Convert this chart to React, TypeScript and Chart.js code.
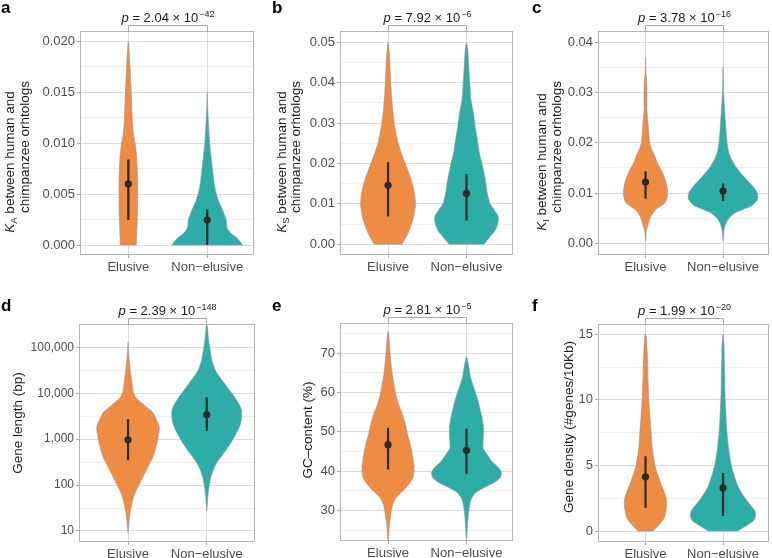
import React, { useEffect, useRef } from 'react';
import { Chart, registerables } from 'chart.js';

Chart.register(...registerables);

const FONT = '"Liberation Sans", Arial, Helvetica, sans-serif';
const categories = ['Elusive', 'Non\u2212elusive'];
const ORANGE = '#EE8C44';
const TEAL = '#2EADA8';

// ---------- Panel a: K_A ----------
const kaElusiveY = [0, 0.0028, 0.0061, 0.0087, 0.0100, 0.0110, 0.0126, 0.0143, 0.0159, 0.0175, 0.0192, 0.0200];
const kaElusiveW = [0.101, 0.114, 0.118, 0.105, 0.085, 0.063, 0.048, 0.041, 0.032, 0.022, 0.010, 0];
const kaNonY = [0, 0.00066, 0.00115, 0.00164, 0.00246, 0.00311, 0.00377, 0.00443, 0.00574, 0.0077, 0.00967, 0.0116, 0.0135, 0.015];
const kaNonW = [0.449, 0.38, 0.30, 0.253, 0.24, 0.211, 0.177, 0.137, 0.095, 0.063, 0.035, 0.018, 0.006, 0];
const kaMid = [0.0060, 0.00246];
const kaLow = [0.00246, 0];
const kaHigh = [0.0084, 0.0035];
const kaTicks = [0, 0.005, 0.01, 0.015, 0.02];
const kaLabels = ['0.000', '0.005', '0.010', '0.015', '0.020'];
const kaMinor = [0.0025, 0.0075, 0.0125, 0.0175];

// ---------- Panel b: K_S ----------
const ksElusiveY = [0, 0.0027, 0.006, 0.0093, 0.011, 0.0135, 0.016, 0.0193, 0.0226, 0.0259, 0.0292, 0.0333, 0.0374, 0.0424, 0.0474, 0.05];
const ksElusiveW = [0.177, 0.253, 0.316, 0.348, 0.348, 0.329, 0.295, 0.232, 0.168, 0.118, 0.085, 0.059, 0.042, 0.029, 0.016, 0];
const ksNonY = [0, 0.0019, 0.0035, 0.0052, 0.0069, 0.0085, 0.0101, 0.0126, 0.016, 0.0193, 0.0226, 0.0259, 0.0292, 0.0325, 0.0358, 0.04, 0.044, 0.0482, 0.05];
const ksNonW = [0.222, 0.30, 0.367, 0.40, 0.405, 0.354, 0.30, 0.266, 0.24, 0.206, 0.165, 0.139, 0.111, 0.089, 0.057, 0.042, 0.029, 0.016, 0];
const ksMid = [0.0146, 0.0126];
const ksLow = [0.0069, 0.0059];
const ksHigh = [0.0203, 0.0174];
const ksTicks = [0, 0.01, 0.02, 0.03, 0.04, 0.05];
const ksLabels = ['0.00', '0.01', '0.02', '0.03', '0.04', '0.05'];
const ksMinor = [0.005, 0.015, 0.025, 0.035, 0.045];

// ---------- Panel c: K_I ----------
const kiElusiveY = [0.0005, 0.0022, 0.0028, 0.0042, 0.0055, 0.0068, 0.0081, 0.0094, 0.0108, 0.0121, 0.0134, 0.0147, 0.016, 0.0174, 0.0187, 0.02, 0.022, 0.024, 0.0266, 0.0292, 0.0319, 0.0339, 0.0355, 0.037];
const kiElusiveW = [0, 0.008, 0.016, 0.042, 0.073, 0.137, 0.253, 0.282, 0.282, 0.266, 0.237, 0.2, 0.152, 0.118, 0.08, 0.053, 0.041, 0.032, 0.018, 0.02, 0.016, 0.006, 0.002, 0];
const kiNonY = [0.0005, 0.0022, 0.0035, 0.0048, 0.0061, 0.0075, 0.0088, 0.0101, 0.0114, 0.0127, 0.0141, 0.0154, 0.0167, 0.018, 0.0193, 0.0213, 0.0233, 0.0253, 0.0286, 0.0312, 0.0335, 0.035];
const kiNonW = [0, 0.009, 0.025, 0.067, 0.158, 0.37, 0.447, 0.44, 0.38, 0.304, 0.222, 0.158, 0.11, 0.076, 0.059, 0.044, 0.036, 0.026, 0.012, 0.005, 0.002, 0];
const kiMid = [0.0122, 0.0104];
const kiLow = [0.0089, 0.0084];
const kiHigh = [0.0143, 0.0119];
const kiTicks = [0, 0.01, 0.02, 0.03, 0.04];
const kiLabels = ['0.00', '0.01', '0.02', '0.03', '0.04'];
const kiMinor = [0.005, 0.015, 0.025, 0.035];

// ---------- Panel d: gene length ----------
const lenElusiveY = [9, 14, 20, 27, 38, 53, 75, 104, 146, 204, 285, 398, 556, 778, 1090, 1520, 1955, 2510, 3510, 4150, 4910, 5810, 6860, 8110, 10400, 15850, 22100, 31000, 43300, 60500, 84500, 118000, 130000];
const lenElusiveW = [0, 0.010, 0.019, 0.029, 0.048, 0.067, 0.101, 0.143, 0.186, 0.228, 0.27, 0.313, 0.342, 0.363, 0.382, 0.395, 0.395, 0.367, 0.329, 0.295, 0.24, 0.19, 0.142, 0.099, 0.067, 0.051, 0.041, 0.029, 0.02, 0.012, 0.005, 0.001, 0];
const lenNonY = [27, 32, 53, 75, 104, 146, 204, 285, 398, 556, 778, 1090, 1520, 2120, 2970, 4150, 5330, 6860, 9590, 13400, 18750, 26200, 36600, 51200, 71600, 100000, 140000, 195000, 273000, 323000];
const lenNonW = [0, 0.004, 0.013, 0.022, 0.034, 0.051, 0.078, 0.116, 0.175, 0.237, 0.295, 0.346, 0.392, 0.427, 0.443, 0.443, 0.421, 0.384, 0.327, 0.263, 0.2, 0.137, 0.095, 0.067, 0.051, 0.038, 0.025, 0.016, 0.009, 0];
const lenMid = [966, 3450];
const lenLow = [348, 1520];
const lenHigh = [2730, 8110];
const lenTicks = [10, 100, 1000, 10000, 100000];
const lenLabels = ['10', '100', '1,000', '10,000', '100,000'];
const lenMinor = [31.6, 316, 3160, 31600];

// ---------- Panel e: GC content ----------
const gcElusiveY = [22, 23.9, 26.4, 28.1, 29.8, 31.5, 33.2, 34.9, 36.6, 38.3, 40, 41.7, 44.2, 46.7, 49.3, 51.8, 54.35, 56.9, 59.4, 62, 65.35, 68.7, 72.1, 74.65, 75.5];
const gcElusiveW = [0, 0.009, 0.016, 0.029, 0.042, 0.059, 0.099, 0.186, 0.263, 0.316, 0.333, 0.327, 0.31, 0.285, 0.249, 0.222, 0.186, 0.135, 0.101, 0.076, 0.048, 0.032, 0.019, 0.009, 0];
const gcNonY = [22, 24.75, 27.3, 29.8, 31.5, 33.2, 34.5, 35.75, 37, 38.3, 39.6, 40.8, 42.5, 44.2, 45.9, 48.4, 51, 53.5, 56, 58.6, 61.1, 63.7, 66.2, 67.9, 69.2];
const gcNonW = [0, 0.009, 0.016, 0.029, 0.042, 0.067, 0.116, 0.222, 0.348, 0.428, 0.447, 0.411, 0.323, 0.263, 0.211, 0.215, 0.218, 0.2, 0.171, 0.137, 0.095, 0.053, 0.032, 0.016, 0];
const gcMid = [46.7, 45.3];
const gcLow = [40.4, 39.3];
const gcHigh = [51, 50.8];
const gcTicks = [30, 40, 50, 60, 70];
const gcLabels = ['30', '40', '50', '60', '70'];
const gcMinor = [25, 35, 45, 55, 65, 75];

// ---------- Panel f: gene density ----------
const gdElusiveY = [0, 0.51, 1.01, 1.52, 2.03, 2.53, 3.04, 3.55, 4.05, 4.56, 5.07, 5.83, 6.59, 7.6, 8.61, 9.63, 10.64, 11.65, 12.67, 13.68, 14.69, 15];
const gdElusiveW = [0.099, 0.18, 0.243, 0.263, 0.275, 0.266, 0.238, 0.203, 0.173, 0.142, 0.12, 0.099, 0.082, 0.072, 0.059, 0.047, 0.038, 0.032, 0.028, 0.022, 0.013, 0];
const gdNonY = [0, 0.38, 0.76, 1.14, 1.52, 1.9, 2.28, 2.79, 3.29, 3.8, 4.56, 5.32, 6.33, 7.35, 8.36, 9.37, 10.64, 11.91, 13.17, 14.19, 15];
const gdNonW = [0.19, 0.295, 0.39, 0.422, 0.411, 0.365, 0.313, 0.253, 0.203, 0.168, 0.127, 0.097, 0.072, 0.054, 0.042, 0.034, 0.025, 0.022, 0.016, 0.013, 0];
const gdMid = [4.13, 3.29];
const gdLow = [1.77, 1.14];
const gdHigh = [5.7, 4.43];
const gdTicks = [0, 5, 10, 15];
const gdLabels = ['0', '5', '10', '15'];
const gdMinor = [2.5, 7.5, 12.5];

type Part = { text: string; italic?: boolean; sub?: boolean };
type TitleLine = { parts: Part[]; dx: number; dy: number; wordSpacing?: number };

type Panel = {
  key: string;
  left: number; top: number; w: number; h: number;
  chartLeft: number;
  pad: { top: number; right: number };
  xAxisH: number;
  xMin: number; xMax: number;
  yType: 'linear' | 'logarithmic';
  yMin: number; yMax: number;
  yFont: number;
  yTicks: number[]; yLabels: string[]; yMinor: number[];
  e: { ys: number[]; ws: number[] };
  n: { ys: number[]; ws: number[] };
  mid: number[]; low: number[]; high: number[];
  letter: string; lx: number; ly: number;
  pMant: string; pExp: string;
  title: TitleLine[];
};

const kLines = (sub: string, dx1: number, dx2: number): TitleLine[] => [
  { parts: [{ text: 'K', italic: true }, { text: sub, sub: true }, { text: ' between human and' }], dx: dx1, dy: 130, wordSpacing: 3 },
  { parts: [{ text: 'chimpanzee orhtologs' }], dx: dx2, dy: 115 },
];

const panels: Panel[] = [
  {
    key: 'a', left: 0, top: 0, w: 258, h: 279, chartLeft: 81,
    pad: { top: 32, right: 5 }, xAxisH: 25,
    xMin: 0.4, xMax: 2.58, yType: 'linear', yMin: -0.00088, yMax: 0.02092, yFont: 13,
    yTicks: kaTicks, yLabels: kaLabels, yMinor: kaMinor,
    e: { ys: kaElusiveY, ws: kaElusiveW }, n: { ys: kaNonY, ws: kaNonW },
    mid: kaMid, low: kaLow, high: kaHigh,
    letter: 'a', lx: 1, ly: 13, pMant: '2.04', pExp: '\u221242',
    title: kLines('A', -71, -56),
  },
  {
    key: 'b', left: 258, top: 0, w: 258, h: 279, chartLeft: 83,
    pad: { top: 32, right: 3 }, xAxisH: 25,
    xMin: 0.4, xMax: 2.58, yType: 'linear', yMin: -0.0024, yMax: 0.05256, yFont: 13,
    yTicks: ksTicks, yLabels: ksLabels, yMinor: ksMinor,
    e: { ys: ksElusiveY, ws: ksElusiveW }, n: { ys: ksNonY, ws: ksNonW },
    mid: ksMid, low: ksLow, high: ksHigh,
    letter: 'b', lx: 14, ly: 13, pMant: '7.92', pExp: '\u22126',
    title: kLines('S', -59, -44.5),
  },
  {
    key: 'c', left: 516, top: 0, w: 256, h: 279, chartLeft: 83,
    pad: { top: 32, right: 1 }, xAxisH: 25,
    xMin: 0.4, xMax: 2.58, yType: 'linear', yMin: -0.0021, yMax: 0.042, yFont: 13,
    yTicks: kiTicks, yLabels: kiLabels, yMinor: kiMinor,
    e: { ys: kiElusiveY, ws: kiElusiveW }, n: { ys: kiNonY, ws: kiNonW },
    mid: kiMid, low: kiLow, high: kiHigh,
    letter: 'c', lx: 16, ly: 13, pMant: '3.78', pExp: '\u221216',
    title: kLines('I', -57, -42),
  },
  {
    key: 'd', left: 0, top: 279, w: 258, h: 279, chartLeft: 80,
    pad: { top: 46, right: 3 }, xAxisH: 17,
    xMin: 0.39, xMax: 2.6, yType: 'logarithmic', yMin: 6.05, yMax: 307000, yFont: 12,
    yTicks: lenTicks, yLabels: lenLabels, yMinor: lenMinor,
    e: { ys: lenElusiveY, ws: lenElusiveW }, n: { ys: lenNonY, ws: lenNonW },
    mid: lenMid, low: lenLow, high: lenHigh,
    letter: 'd', lx: 1, ly: 32, pMant: '2.39', pExp: '\u2212148',
    title: [{ parts: [{ text: 'Gene length (bp)' }], dx: -61.5, dy: 98 }],
  },
  {
    key: 'e', left: 258, top: 279, w: 258, h: 279, chartLeft: 83,
    pad: { top: 45, right: 3 }, xAxisH: 18,
    xMin: 0.4, xMax: 2.58, yType: 'linear', yMin: 22.47, yMax: 77.4, yFont: 13,
    yTicks: gcTicks, yLabels: gcLabels, yMinor: gcMinor,
    e: { ys: gcElusiveY, ws: gcElusiveW }, n: { ys: gcNonY, ws: gcNonW },
    mid: gcMid, low: gcLow, high: gcHigh,
    letter: 'e', lx: 14, ly: 32, pMant: '2.81', pExp: '\u22125',
    title: [{ parts: [{ text: 'GC\u2013content (%)' }], dx: -33, dy: 106 }],
  },
  {
    key: 'f', left: 516, top: 279, w: 256, h: 279, chartLeft: 83,
    pad: { top: 46, right: 1 }, xAxisH: 17,
    xMin: 0.4, xMax: 2.58, yType: 'linear', yMin: -0.76, yMax: 15.71, yFont: 13,
    yTicks: gdTicks, yLabels: gdLabels, yMinor: gdMinor,
    e: { ys: gdElusiveY, ws: gdElusiveW }, n: { ys: gdNonY, ws: gdNonW },
    mid: gdMid, low: gdLow, high: gdHigh,
    letter: 'f', lx: 16, ly: 32, pMant: '1.99', pExp: '\u221220',
    title: [{ parts: [{ text: 'Gene density (#genes/10Kb)' }], dx: -30, dy: 102 }],
  },
];

function violinPoints(center: number, ys: number[], ws: number[]) {
  const pts: { x: number; y: number }[] = [];
  const n = ys.length;
  for (let i = 0; i < n; i++) {
    pts.push({ x: center + ws[i], y: ys[i] });
    if (i === 0 && ws[0] > 0) pts.push({ x: center + ws[0], y: ys[0] });
  }
  for (let i = n - 1; i >= 0; i--) {
    if (i === n - 1 && ws[i] === 0) continue;
    pts.push({ x: center - ws[i], y: ys[i] });
  }
  if (ws[0] > 0) {
    pts.push({ x: center - ws[0], y: ys[0] });
    pts.push({ x: center + ws[0], y: ys[0] });
  }
  return pts;
}

function alignPx(v: number) {
  return Math.round(v - 0.5) + 0.5;
}

function makeDecor(p: Panel) {
  return {
    id: 'decor_' + p.key,
    afterDraw(chart: any) {
      const ctx: any = chart.ctx;
      const a = chart.chartArea;
      ctx.save();
      // panel border
      ctx.strokeStyle = '#b5b5b5';
      ctx.lineWidth = 1;
      const L = Math.round(a.left), T = Math.round(a.top), R = Math.round(a.right), B = Math.round(a.bottom);
      ctx.strokeRect(L - 0.5, T - 0.5, R - L + 1, B - T + 1);
      // significance bracket
      const xs = chart.scales.x;
      const x1 = alignPx(xs.getPixelForValue(1));
      const x2 = alignPx(xs.getPixelForValue(2));
      const by = T - 6.5;
      ctx.strokeStyle = '#a8a8a8';
      ctx.beginPath();
      ctx.moveTo(x1, T);
      ctx.lineTo(x1, by);
      ctx.lineTo(x2, by);
      ctx.lineTo(x2, T);
      ctx.stroke();
      // p value
      ctx.fillStyle = '#1a1a1a';
      ctx.textBaseline = 'alphabetic';
      ctx.textAlign = 'left';
      const fP = `italic 13px ${FONT}`;
      const fM = `13px ${FONT}`;
      const fS = `9px ${FONT}`;
      const tM = ` = ${p.pMant} \u00d7 10`;
      ctx.font = fP; const wP = ctx.measureText('p').width;
      ctx.font = fM; const wM = ctx.measureText(tM).width;
      ctx.font = fS; const wS = ctx.measureText(p.pExp).width;
      const total = wP + wM + wS + 1;
      let px = (x1 + x2) / 2 - total / 2;
      const base = T - 10;
      ctx.font = fP; ctx.fillText('p', px, base); px += wP;
      ctx.font = fM; ctx.fillText(tM, px, base); px += wM + 1;
      ctx.font = fS; ctx.fillText(p.pExp, px, base - 5);
      // panel letter
      ctx.fillStyle = '#000';
      ctx.font = `bold 17px ${FONT}`;
      ctx.fillText(p.letter, p.lx, p.ly);
      // axis title
      ctx.fillStyle = '#1a1a1a';
      for (const line of p.title) {
        ctx.save();
        ctx.translate(a.left + line.dx, a.top + line.dy);
        ctx.rotate(-Math.PI / 2);
        ctx.textBaseline = 'middle';
        if (line.wordSpacing) ctx.wordSpacing = `${line.wordSpacing}px`;
        const fontFor = (part: Part) => part.sub ? `9.5px ${FONT}` : part.italic ? `italic 13.5px ${FONT}` : `13.5px ${FONT}`;
        const widths = line.parts.map((part) => { ctx.font = fontFor(part); return ctx.measureText(part.text).width; });
        const sum = widths.reduce((s: number, v: number) => s + v, 0);
        let x = -sum / 2;
        line.parts.forEach((part, i) => {
          ctx.font = fontFor(part);
          ctx.fillText(part.text, x, part.sub ? 4 : 0);
          x += widths[i];
        });
        ctx.restore();
      }
      ctx.restore();
    },
  };
}

function buildConfig(p: Panel): any {
  const yAll = [...p.yTicks, ...p.yMinor];
  const isMajor = (v: number) => p.yTicks.indexOf(v) >= 0;
  const violin = (center: number, d: { ys: number[]; ws: number[] }, color: string) => ({
    data: violinPoints(center, d.ys, d.ws),
    fill: 'shape',
    backgroundColor: color,
    borderColor: 'rgba(150,150,150,0.85)',
    borderWidth: 0.7,
    pointRadius: 0,
    tension: 0.22,
  });
  const bar = (center: number, i: number) => ({
    data: [{ x: center, y: p.low[i] }, { x: center, y: p.high[i] }],
    borderColor: '#2b2b2b',
    borderWidth: 2.2,
    pointRadius: 0,
    fill: false,
    tension: 0,
  });
  return {
    type: 'line',
    data: {
      datasets: [
        {
          data: categories.map((_, i) => ({ x: i + 1, y: p.mid[i] })),
          showLine: false,
          pointRadius: 3.6,
          pointBackgroundColor: '#2b2b2b',
          pointBorderWidth: 0,
          fill: false,
        },
        bar(1, 0),
        bar(2, 1),
        violin(1, p.e, ORANGE),
        violin(2, p.n, TEAL),
      ],
    },
    options: {
      responsive: false,
      animation: false,
      devicePixelRatio: 1,
      events: [],
      layout: { padding: { left: 0, top: p.pad.top, right: p.pad.right, bottom: 0 } },
      plugins: { legend: { display: false }, tooltip: { enabled: false }, title: { display: false } },
      scales: {
        x: {
          type: 'linear',
          min: p.xMin,
          max: p.xMax,
          afterBuildTicks: (s: any) => { s.ticks = [{ value: 1 }, { value: 2 }]; },
          afterFit: (s: any) => { s.height = p.xAxisH; },
          ticks: {
            callback: (v: number) => categories[Math.round(v) - 1] ?? '',
            color: '#4d4d4d',
            font: { family: FONT, size: 13 },
            padding: 2,
            maxRotation: 0,
            autoSkip: false,
          },
          grid: { color: '#dcdcdc', tickColor: '#a8a8a8', tickLength: 4, lineWidth: 1 },
          border: { display: false },
        },
        y: {
          type: p.yType,
          min: p.yMin,
          max: p.yMax,
          afterBuildTicks: (s: any) => { s.ticks = yAll.map((v) => ({ value: v })); },
          afterFit: (s: any) => { s.width = p.chartLeft; },
          ticks: {
            callback: (v: number) => { const i = p.yTicks.indexOf(v); return i >= 0 ? p.yLabels[i] : ''; },
            color: '#4d4d4d',
            font: { family: FONT, size: p.yFont },
            padding: 2,
            autoSkip: false,
          },
          grid: {
            color: (c: any) => (c.tick && isMajor(c.tick.value) ? '#dcdcdc' : '#efefef'),
            tickColor: (c: any) => (c.tick && isMajor(c.tick.value) ? '#a8a8a8' : 'rgba(0,0,0,0)'),
            tickLength: 4,
            lineWidth: 1,
          },
          border: { display: false },
        },
      },
    },
    plugins: [makeDecor(p)],
  };
}

function PanelChart({ p }: { p: Panel }) {
  const ref = useRef<HTMLCanvasElement>(null);
  useEffect(() => {
    const chart = new Chart(ref.current as HTMLCanvasElement, buildConfig(p));
    return () => chart.destroy();
  }, [p]);
  return (
    <canvas
      ref={ref}
      width={p.w}
      height={p.h}
      style={{ position: 'absolute', left: p.left, top: p.top, width: p.w, height: p.h }}
    />
  );
}

export default function App() {
  return (
    <div style={{ position: 'absolute', left: 0, top: 0, width: 772, height: 558, background: '#fff', overflow: 'hidden' }}>
      {panels.map((p) => (
        <PanelChart key={p.key} p={p} />
      ))}
    </div>
  );
}
